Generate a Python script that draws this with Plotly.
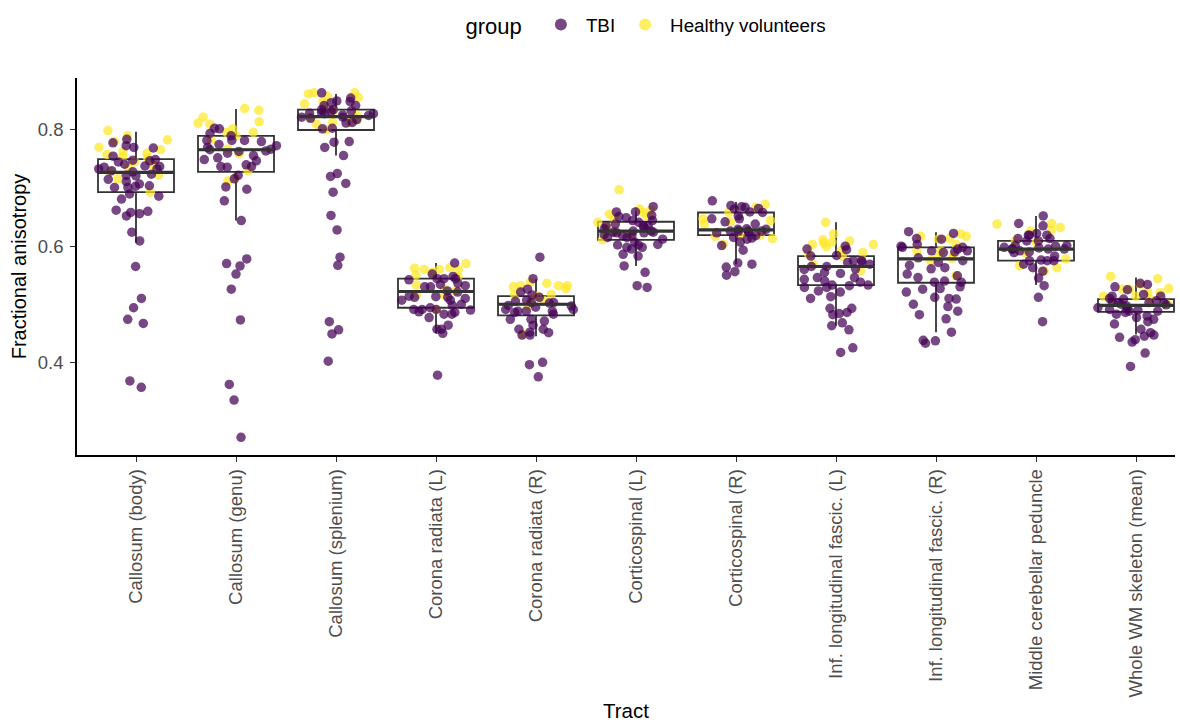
import plotly.graph_objects as go

tracts = ["Callosum (body)", "Callosum (genu)", "Callosum (splenium)", "Corona radiata (L)",
          "Corona radiata (R)", "Corticospinal (L)", "Corticospinal (R)",
          "Inf. longitudinal fascic. (L)", "Inf. longitudinal fascic. (R)",
          "Middle cerebellar peduncle", "Whole WM skeleton (mean)"]

# Box summaries (all subjects)
box_q1 = [0.693, 0.728, 0.800, 0.494, 0.481, 0.611, 0.619, 0.533, 0.537, 0.575, 0.487]
box_median = [0.727, 0.766, 0.823, 0.522, 0.500, 0.626, 0.628, 0.565, 0.578, 0.595, 0.498]
box_q3 = [0.750, 0.790, 0.835, 0.544, 0.514, 0.642, 0.658, 0.583, 0.598, 0.609, 0.509]
box_low = [0.606, 0.644, 0.756, 0.450, 0.445, 0.566, 0.569, 0.463, 0.452, 0.533, 0.448]
box_high = [0.797, 0.836, 0.862, 0.571, 0.543, 0.667, 0.676, 0.641, 0.624, 0.652, 0.546]

tbi_body = [0.784, 0.778, 0.770, 0.769, 0.773, 0.749, 0.747, 0.755, 0.748, 0.730, 0.721, 0.736, 0.738,
            0.722, 0.741, 0.737, 0.733, 0.724, 0.701, 0.690, 0.704, 0.711, 0.701, 0.707, 0.703, 0.686,
            0.681, 0.658, 0.656, 0.652, 0.662, 0.660, 0.624, 0.609, 0.565, 0.510, 0.494, 0.474, 0.467,
            0.368, 0.357, 0.745, 0.728, 0.733, 0.715]
hv_body = [0.799, 0.783, 0.790, 0.780, 0.766, 0.763, 0.758, 0.752, 0.745, 0.740, 0.735, 0.728, 0.722,
           0.716, 0.693, 0.760, 0.755, 0.770]

tbi_genu = [0.802, 0.790, 0.803, 0.794, 0.782, 0.782, 0.780, 0.782, 0.770, 0.767, 0.764, 0.766, 0.756,
            0.752, 0.749, 0.737, 0.737, 0.740, 0.763, 0.747, 0.773, 0.736, 0.722, 0.716, 0.698, 0.702,
            0.678, 0.644, 0.578, 0.552, 0.526, 0.570, 0.566, 0.473, 0.362, 0.335, 0.271, 0.775, 0.760]
hv_genu = [0.837, 0.834, 0.822, 0.810, 0.802, 0.812, 0.814, 0.796, 0.783, 0.790, 0.767, 0.759, 0.717,
           0.712, 0.730, 0.796]

tbi_splen = [0.864, 0.855, 0.847, 0.842, 0.849, 0.850, 0.842, 0.835, 0.835, 0.833, 0.828, 0.822, 0.828,
             0.829, 0.822, 0.825, 0.812, 0.813, 0.803, 0.802, 0.779, 0.770, 0.780, 0.756, 0.725, 0.720,
             0.708, 0.693, 0.653, 0.628, 0.581, 0.567, 0.470, 0.449, 0.456, 0.402, 0.830, 0.826,
             0.820, 0.818, 0.832]
hv_splen = [0.858, 0.845, 0.862, 0.864, 0.864, 0.856, 0.833, 0.818, 0.800, 0.813, 0.810, 0.813, 0.822,
            0.850, 0.838, 0.826]

tbi_crl = [0.571, 0.552, 0.548, 0.544, 0.544, 0.536, 0.530, 0.542, 0.532, 0.534, 0.530, 0.544, 0.521,
           0.514, 0.513, 0.523, 0.512, 0.512, 0.510, 0.507, 0.507, 0.498, 0.500, 0.491, 0.487, 0.486,
           0.491, 0.494, 0.491, 0.490, 0.483, 0.483, 0.477, 0.457, 0.457, 0.450, 0.464, 0.378]
hv_crl = [0.562, 0.570, 0.560, 0.563, 0.560, 0.560, 0.555, 0.550, 0.533, 0.526, 0.516, 0.523, 0.517,
          0.491, 0.548]

tbi_crr = [0.581, 0.544, 0.526, 0.521, 0.516, 0.512, 0.507, 0.503, 0.498, 0.503, 0.497, 0.502, 0.488,
           0.491, 0.488, 0.491, 0.483, 0.486, 0.488, 0.474, 0.474, 0.471, 0.464, 0.457, 0.452, 0.447,
           0.451, 0.447, 0.457, 0.396, 0.400, 0.375, 0.505, 0.495]
hv_crr = [0.536, 0.532, 0.530, 0.532, 0.538, 0.527, 0.517, 0.509, 0.506, 0.517, 0.514, 0.532, 0.448,
          0.497]

tbi_csl = [0.668, 0.659, 0.653, 0.659, 0.649, 0.651, 0.644, 0.644, 0.641, 0.635, 0.638, 0.632, 0.635,
           0.635, 0.630, 0.626, 0.623, 0.624, 0.626, 0.624, 0.623, 0.618, 0.615, 0.615, 0.612, 0.618,
           0.620, 0.603, 0.598, 0.607, 0.602, 0.598, 0.583, 0.595, 0.586, 0.602, 0.566, 0.555, 0.529,
           0.532]
hv_csl = [0.697, 0.648, 0.664, 0.658, 0.662, 0.655, 0.634, 0.641, 0.619, 0.624, 0.611, 0.652, 0.626]

tbi_csr = [0.678, 0.670, 0.668, 0.665, 0.667, 0.664, 0.659, 0.652, 0.658, 0.647, 0.638, 0.642, 0.647,
           0.623, 0.618, 0.626, 0.630, 0.626, 0.626, 0.629, 0.624, 0.626, 0.629, 0.615, 0.607, 0.612,
           0.601, 0.614, 0.593, 0.571, 0.569, 0.564, 0.556, 0.550]
hv_csr = [0.667, 0.658, 0.672, 0.644, 0.647, 0.642, 0.638, 0.613, 0.617, 0.603, 0.618, 0.619]

tbi_ilfl = [0.600, 0.595, 0.594, 0.584, 0.583, 0.575, 0.575, 0.572, 0.569, 0.573, 0.565, 0.565, 0.560,
            0.561, 0.553, 0.555, 0.546, 0.546, 0.543, 0.538, 0.540, 0.533, 0.532, 0.533, 0.529, 0.529,
            0.521, 0.523, 0.513, 0.510, 0.486, 0.493, 0.493, 0.482, 0.484, 0.468, 0.463, 0.456, 0.425,
            0.417]
hv_ilfl = [0.641, 0.621, 0.599, 0.589, 0.611, 0.607, 0.605, 0.603, 0.592, 0.583, 0.586, 0.557, 0.569,
           0.609, 0.603]

tbi_ilfr = [0.622, 0.625, 0.613, 0.612, 0.603, 0.598, 0.598, 0.600, 0.595, 0.592, 0.589, 0.590, 0.592,
            0.580, 0.575, 0.572, 0.567, 0.563, 0.561, 0.552, 0.549, 0.546, 0.538, 0.540, 0.538, 0.530,
            0.526, 0.521, 0.527, 0.510, 0.509, 0.500, 0.512, 0.496, 0.488, 0.475, 0.482, 0.452, 0.437,
            0.433, 0.438]
hv_ilfr = [0.613, 0.621, 0.617, 0.612, 0.603, 0.592, 0.584, 0.575, 0.579, 0.580, 0.592, 0.549, 0.617]

tbi_mcp = [0.652, 0.639, 0.635, 0.622, 0.619, 0.619, 0.613, 0.619, 0.613, 0.609, 0.609, 0.601, 0.595,
           0.592, 0.601, 0.595, 0.595, 0.598, 0.595, 0.597, 0.583, 0.575, 0.576, 0.575, 0.575, 0.569,
           0.563, 0.557, 0.545, 0.532, 0.512, 0.470, 0.589, 0.600, 0.590]
hv_mcp = [0.632, 0.638, 0.626, 0.607, 0.609, 0.566, 0.563, 0.557, 0.578, 0.589, 0.639, 0.628]

tbi_wm = [0.534, 0.536, 0.530, 0.525, 0.514, 0.517, 0.514, 0.510, 0.509, 0.500, 0.506, 0.503, 0.503,
          0.504, 0.493, 0.494, 0.490, 0.491, 0.497, 0.488, 0.488, 0.483, 0.486, 0.480, 0.474, 0.477,
          0.466, 0.470, 0.457, 0.451, 0.447, 0.445, 0.439, 0.435, 0.443, 0.416, 0.393, 0.499, 0.502]
hv_wm = [0.544, 0.548, 0.520, 0.521, 0.526, 0.526, 0.527, 0.534, 0.514, 0.514, 0.506, 0.500, 0.509]

tbi_values = [tbi_body, tbi_genu, tbi_splen, tbi_crl, tbi_crr, tbi_csl, tbi_csr,
              tbi_ilfl, tbi_ilfr, tbi_mcp, tbi_wm]
hv_values = [hv_body, hv_genu, hv_splen, hv_crl, hv_crr, hv_csl, hv_csr,
             hv_ilfl, hv_ilfr, hv_mcp, hv_wm]

group_names = ["TBI", "Healthy volunteers"]
group_colors = ["rgba(68,1,84,0.72)", "rgba(253,231,37,0.72)"]

tbi_x, tbi_y, hv_x, hv_y = [], [], [], []
for t, tv, hv in zip(tracts, tbi_values, hv_values):
    tbi_x += [t] * len(tv)
    tbi_y += tv
    hv_x += [t] * len(hv)
    hv_y += hv

FONT = "Liberation Sans, Arial, Helvetica, sans-serif"
BOXW = 0.76

fig = go.Figure()

# Box summary (pre-computed statistics)
fig.add_trace(go.Box(
    x=tracts, q1=box_q1, median=box_median, q3=box_q3,
    lowerfence=box_low, upperfence=box_high, width=BOXW,
    fillcolor="rgba(0,0,0,0)", line=dict(color="#333333", width=1.8),
    whiskerwidth=0, showlegend=False, hoverinfo="skip"))

# Thicker median bar (ggplot style); line-ew length is 1.4 x size
fig.add_trace(go.Scatter(
    x=tracts, y=box_median, mode="markers", showlegend=False, hoverinfo="skip",
    marker=dict(symbol="line-ew", size=54, line=dict(color="#333333", width=3.2))))

# Jittered points, drawn via invisible boxes
def points_trace(x, y, color, name):
    return go.Box(
        x=x, y=y, name=name, boxpoints="all", jitter=1, pointpos=0, width=0.82,
        fillcolor="rgba(0,0,0,0)", line=dict(color="rgba(0,0,0,0)", width=0),
        marker=dict(color=color, size=9.5, line=dict(width=0)),
        hoveron="points", showlegend=False)

fig.add_trace(points_trace(hv_x, hv_y, group_colors[1], group_names[1]))
fig.add_trace(points_trace(tbi_x, tbi_y, group_colors[0], group_names[0]))

# Legend entries
for name, col, rank in [(group_names[0], group_colors[0], 1), (group_names[1], group_colors[1], 2)]:
    fig.add_trace(go.Scatter(x=[None], y=[None], mode="markers", name=name, legendrank=rank,
                             marker=dict(color=col, size=8)))

fig.update_layout(
    width=1180, height=722,
    boxmode="overlay",
    paper_bgcolor="white", plot_bgcolor="white",
    font=dict(family=FONT, color="black"),
    margin=dict(l=77, r=5, t=78, b=267, autoexpand=False),
    legend=dict(orientation="h", x=0.352, xanchor="left", yref="container", y=0.965,
                yanchor="middle", itemwidth=40,
                title=dict(text="group ", font=dict(size=22)),
                font=dict(size=18.8), itemsizing="constant", traceorder="normal"),
    xaxis=dict(
        type="category", categoryorder="array", categoryarray=tracts, automargin=False,
        range=[-0.59, 10.39], tickangle=-90, showgrid=False, zeroline=False,
        showline=True, linecolor="black", linewidth=1.5,
        ticks="outside", ticklen=5, tickcolor="#333333", tickwidth=1.2,
        tickfont=dict(size=18.5, color="#4d4d4d"),
        title=dict(text="Tract", font=dict(size=20.5), standoff=9)),
    yaxis=dict(
        range=[0.2405, 0.8895], tickvals=[0.4, 0.6, 0.8], ticktext=["0.4", "0.6", "0.8"],
        automargin=False, ticklabelstandoff=3,
        showgrid=False, zeroline=False, showline=True, linecolor="black", linewidth=1.5,
        ticks="outside", ticklen=5, tickcolor="#333333", tickwidth=1.2,
        tickfont=dict(size=18.5, color="#4d4d4d"),
        title=dict(text="Fractional anisotropy", font=dict(size=20), standoff=6)),
)

fig.write_html("out.html", post_script="document.body.style.margin='0';",
               config={"displayModeBar": False})
